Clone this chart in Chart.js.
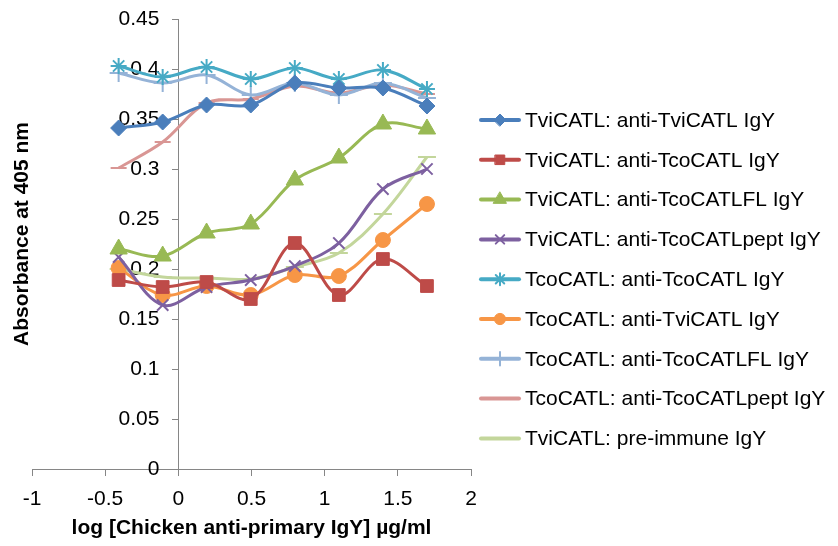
<!DOCTYPE html>
<html>
<head>
<meta charset="utf-8">
<script src="https://cdn.jsdelivr.net/npm/chart.js@4/dist/chart.umd.min.js"></script>
<style>
  html, body { margin: 0; padding: 0; background: #fff; }
  #wrap { width: 838px; height: 546px; }
</style>
</head>
<body>
<div id="wrap"><canvas id="chart"></canvas></div>
<script>
// log10 of the doubling dilutions (µg/ml)
const logConc = [-0.408, -0.107, 0.193, 0.495, 0.796, 1.097, 1.398, 1.699];

const seriesNames = [
    'TviCATL: anti-TviCATL IgY',
    'TviCATL: anti-TcoCATL IgY',
    'TviCATL: anti-TcoCATLFL IgY',
    'TviCATL: anti-TcoCATLpept IgY',
    'TcoCATL: anti-TcoCATL IgY',
    'TcoCATL: anti-TviCATL IgY',
    'TcoCATL: anti-TcoCATLFL IgY',
    'TcoCATL: anti-TcoCATLpept IgY',
    'TviCATL: pre-immune IgY'
];

// absorbance values
const tviAntiTvi      = [0.341, 0.347, 0.364, 0.364, 0.386, 0.381, 0.381, 0.363];
const tviAntiTco      = [0.189, 0.182, 0.187, 0.170, 0.226, 0.174, 0.210, 0.183];
const tviAntiTcoFL    = [0.220, 0.213, 0.236, 0.245, 0.289, 0.311, 0.345, 0.340];
const tviAntiTcoPept  = [0.212, 0.164, 0.182, 0.189, 0.203, 0.226, 0.280, 0.300];
const tcoAntiTco      = [0.403, 0.392, 0.402, 0.390, 0.401, 0.390, 0.399, 0.380];
const tcoAntiTvi      = [0.201, 0.174, 0.183, 0.174, 0.194, 0.193, 0.229, 0.265];
const tcoAntiTcoFL    = [0.396, 0.386, 0.394, 0.374, 0.386, 0.374, 0.386, 0.371];
const tcoAntiTcoPept  = [0.301, 0.327, 0.366, 0.370, 0.383, 0.376, 0.384, 0.375];
const tviPreImmune    = [0.200, 0.192, 0.191, 0.190, 0.202, 0.216, 0.255, 0.312];

const xTicks = [-1, -0.5, 0, 0.5, 1, 1.5, 2];
const yTicks = [0, 0.05, 0.1, 0.15, 0.2, 0.25, 0.3, 0.35, 0.4, 0.45];

const allValues = [tviAntiTvi, tviAntiTco, tviAntiTcoFL, tviAntiTcoPept, tcoAntiTco,
                   tcoAntiTvi, tcoAntiTcoFL, tcoAntiTcoPept, tviPreImmune];
const colors = ['#4A7EBB', '#BE4B48', '#98B954', '#7D60A0', '#46AAC5',
                '#F79646', '#95B3D7', '#D99694', '#C3D69B'];
const markers = ['rectRot', 'rect', 'triangle', 'crossRot', 'star', 'circle', 'cross', 'line', 'line'];
const markerSize = [8, 9, 10, 8, 8, 7.5, 9, 8, 9];

const FONT = "'Liberation Sans', Arial, sans-serif";

const datasets = seriesNames.map((name, i) => ({
    label: name,
    data: logConc.map((x, j) => ({ x: x, y: allValues[i][j] })),
    borderColor: colors[i],
    backgroundColor: colors[i],
    borderWidth: 3,
    tension: 0.35,
    pointStyle: markers[i],
    pointRadius: markerSize[i],
    pointBorderWidth: ['rectRot', 'rect', 'triangle', 'circle'].includes(markers[i]) ? 1 : 2,
    pointHoverRadius: markerSize[i],
    clip: false
}));

// las etiquetas del eje Y quedan pegadas al eje cuando se posiciona en x=0: las separo
const yLabelGap = {
    id: 'yLabelGap',
    beforeDraw(chart) {
        const items = chart.scales.y.getLabelItems();
        items.forEach(it => {
            if (!it._shifted) {
                it.options.translation[0] -= 19;
                it._shifted = true;
            }
        });
    }
};

// leyenda con línea + marcador, como en Excel
const lineLegend = {
    id: 'lineLegend',
    afterDraw(chart) {
        const ctx = chart.ctx;
        ctx.save();
        chart.data.datasets.forEach((ds, i) => {
            const y = 120 + i * 39.8;
            ctx.strokeStyle = ds.borderColor;
            ctx.lineWidth = 4;
            ctx.lineCap = 'round';
            ctx.beginPath();
            ctx.moveTo(481, y);
            ctx.lineTo(519, y);
            ctx.stroke();
            ctx.fillStyle = ds.backgroundColor;
            ctx.lineWidth = ds.pointBorderWidth;
            Chart.helpers.drawPoint(ctx, { pointStyle: ds.pointStyle, radius: ds.pointRadius * 0.75, borderWidth: ds.pointBorderWidth, rotation: 0 }, 500, y);
            ctx.fillStyle = '#000';
            ctx.font = '21px ' + FONT;
            ctx.textAlign = 'left';
            ctx.textBaseline = 'middle';
            ctx.fillText(ds.label, 525, y + 1);
        });
        // título del eje Y
        ctx.translate(22, 234);
        ctx.rotate(-Math.PI / 2);
        ctx.font = 'bold 21px ' + FONT;
        ctx.textAlign = 'center';
        ctx.textBaseline = 'middle';
        ctx.fillStyle = '#000';
        ctx.fillText('Absorbance at 405 nm', 0, 0);
        ctx.restore();
    }
};

new Chart(document.getElementById('chart'), {
    type: 'line',
    data: { datasets: datasets },
    options: {
        responsive: true,
        maintainAspectRatio: false,
        animation: false,
        layout: { padding: { left: 32, right: 367, top: 19, bottom: 0 } },
        plugins: {
            legend: { display: false },
            tooltip: { enabled: false }
        },
        scales: {
            x: {
                type: 'linear',
                position: 'bottom',
                min: -1,
                max: 2,
                afterBuildTicks: axis => { axis.ticks = xTicks.map(v => ({ value: v })); },
                grid: { drawOnChartArea: false, drawTicks: true, tickLength: 7, tickColor: '#868686' },
                border: { color: '#868686', width: 1 },
                ticks: {
                    color: '#000',
                    font: { family: FONT, size: 21, lineHeight: 1.2 },
                    padding: 10.4,
                    maxRotation: 0,
                    callback: v => String(v)
                },
                title: {
                    display: true,
                    text: 'log [Chicken anti-primary IgY] µg/ml',
                    color: '#000',
                    font: { family: FONT, size: 21, weight: 'bold', lineHeight: 0.57 },
                    padding: { top: 0, bottom: 12 }
                }
            },
            y: {
                type: 'linear',
                position: { x: 0 },
                min: 0,
                max: 0.45,
                afterBuildTicks: axis => { axis.ticks = yTicks.map(v => ({ value: v })); },
                grid: { drawOnChartArea: false, drawTicks: true, tickLength: 6, tickColor: '#868686' },
                border: { color: '#868686', width: 1 },
                ticks: {
                    color: '#000',
                    font: { family: FONT, size: 21, lineHeight: 1.0 },
                    callback: v => String(+v.toFixed(2))
                }
            }
        }
    },
    plugins: [yLabelGap, lineLegend]
});
</script>
</body>
</html>
